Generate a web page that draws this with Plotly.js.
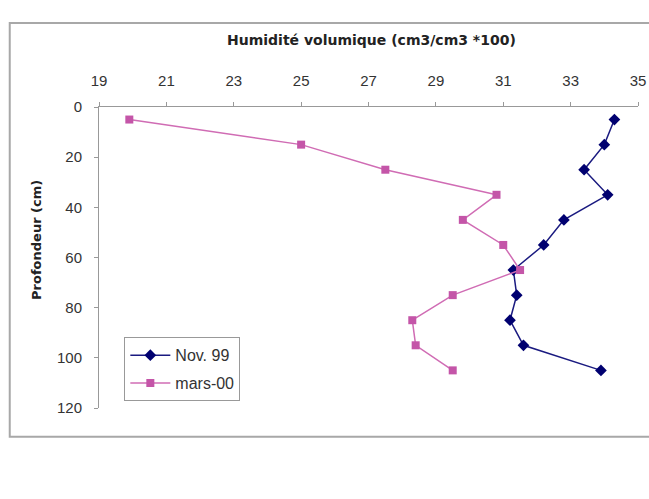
<!DOCTYPE html>
<html>
<head>
<meta charset="utf-8">
<script src="https://cdn.plot.ly/plotly-3.0.1.min.js"></script>
<style>html,body{margin:0;padding:0;background:#fff;}#chart{width:649px;height:499px;}</style>
</head>
<body>
<div id="chart"></div>
<script>
const depths = [5, 15, 25, 35, 45, 55, 65, 75, 85, 95, 105];
const nov99 = [34.3, 34.0, 33.4, 34.1, 32.8, 32.2, 31.3, 31.4, 31.2, 31.6, 33.9];
const mars00 = [19.9, 25.0, 27.5, 30.8, 29.8, 31.0, 31.5, 29.5, 28.3, 28.4, 29.5];
const seriesNames = ["Nov. 99", "mars-00"];
const xTicks = [19, 21, 23, 25, 27, 29, 31, 33, 35];
const yTicks = [0, 20, 40, 60, 80, 100, 120];

const fontFam = "Liberation Sans, Arial, sans-serif";
const titleFam = "DejaVu Sans, sans-serif";
const traces = [
  {x: nov99, y: depths, name: seriesNames[0], mode: "lines+markers", legendgroup: "a",
   line: {color: "#1a1a80", width: 1.5},
   marker: {symbol: "diamond", size: 9, color: "#000070"}},
  {x: mars00, y: depths, name: seriesNames[1], mode: "lines+markers", legendgroup: "b",
   line: {color: "#d06cb4", width: 1.5},
   marker: {symbol: "square", size: 8, color: "#c455a8"}}
];

const layout = {
  width: 649, height: 499,
  margin: {l: 98.6, r: 11, t: 106.7, b: 91},
  paper_bgcolor: "#fff", plot_bgcolor: "#fff",
  font: {family: fontFam, size: 15, color: "#333"},
  showlegend: true,
  legend: {x: 0.047, y: 0.235, xanchor: "left", yanchor: "top",
           bordercolor: "#999", borderwidth: 1, bgcolor: "#fff",
           traceorder: "grouped", tracegroupgap: 4, itemwidth: 40,
           font: {family: fontFam, size: 16, color: "#333"}},
  xaxis: {side: "top", range: [19, 35], tickvals: xTicks, ticktext: xTicks.map(String),
          showgrid: false, zeroline: false, showline: true, linecolor: "#999", linewidth: 1,
          ticks: "outside", ticklen: 4, tickcolor: "#999", ticklabelstandoff: 10,
          tickfont: {family: fontFam, size: 15, color: "#333"}},
  yaxis: {range: [120, 0], tickvals: yTicks, ticktext: yTicks.map(String),
          showgrid: false, zeroline: false, showline: true, linecolor: "#999", linewidth: 1,
          ticks: "outside", ticklen: 4, tickcolor: "#999", ticklabelstandoff: 9,
          tickfont: {family: fontFam, size: 15, color: "#333"}},
  annotations: [
    {text: "<b>Humidité volumique (cm3/cm3 *100)</b>", xref: "paper", yref: "paper",
     x: 0.505, y: 1.221, showarrow: false, xanchor: "center", yanchor: "middle",
     font: {family: titleFam, size: 14, color: "#222"}},
    {text: "<b>Profondeur (cm)</b>", xref: "paper", yref: "paper", textangle: -90,
     x: -0.116, y: 0.56, showarrow: false, xanchor: "center", yanchor: "middle",
     font: {family: titleFam, size: 13, color: "#222"}}
  ],
  shapes: [
    {type: "rect", xref: "paper", yref: "paper", x0: -0.1656, x1: 1.03, y0: -0.0953, y1: 1.2788,
     line: {color: "#a8a8a8", width: 2}, layer: "below"}
  ]
};

Plotly.newPlot("chart", traces, layout, {displayModeBar: false, staticPlot: true});
</script>
</body>
</html>
